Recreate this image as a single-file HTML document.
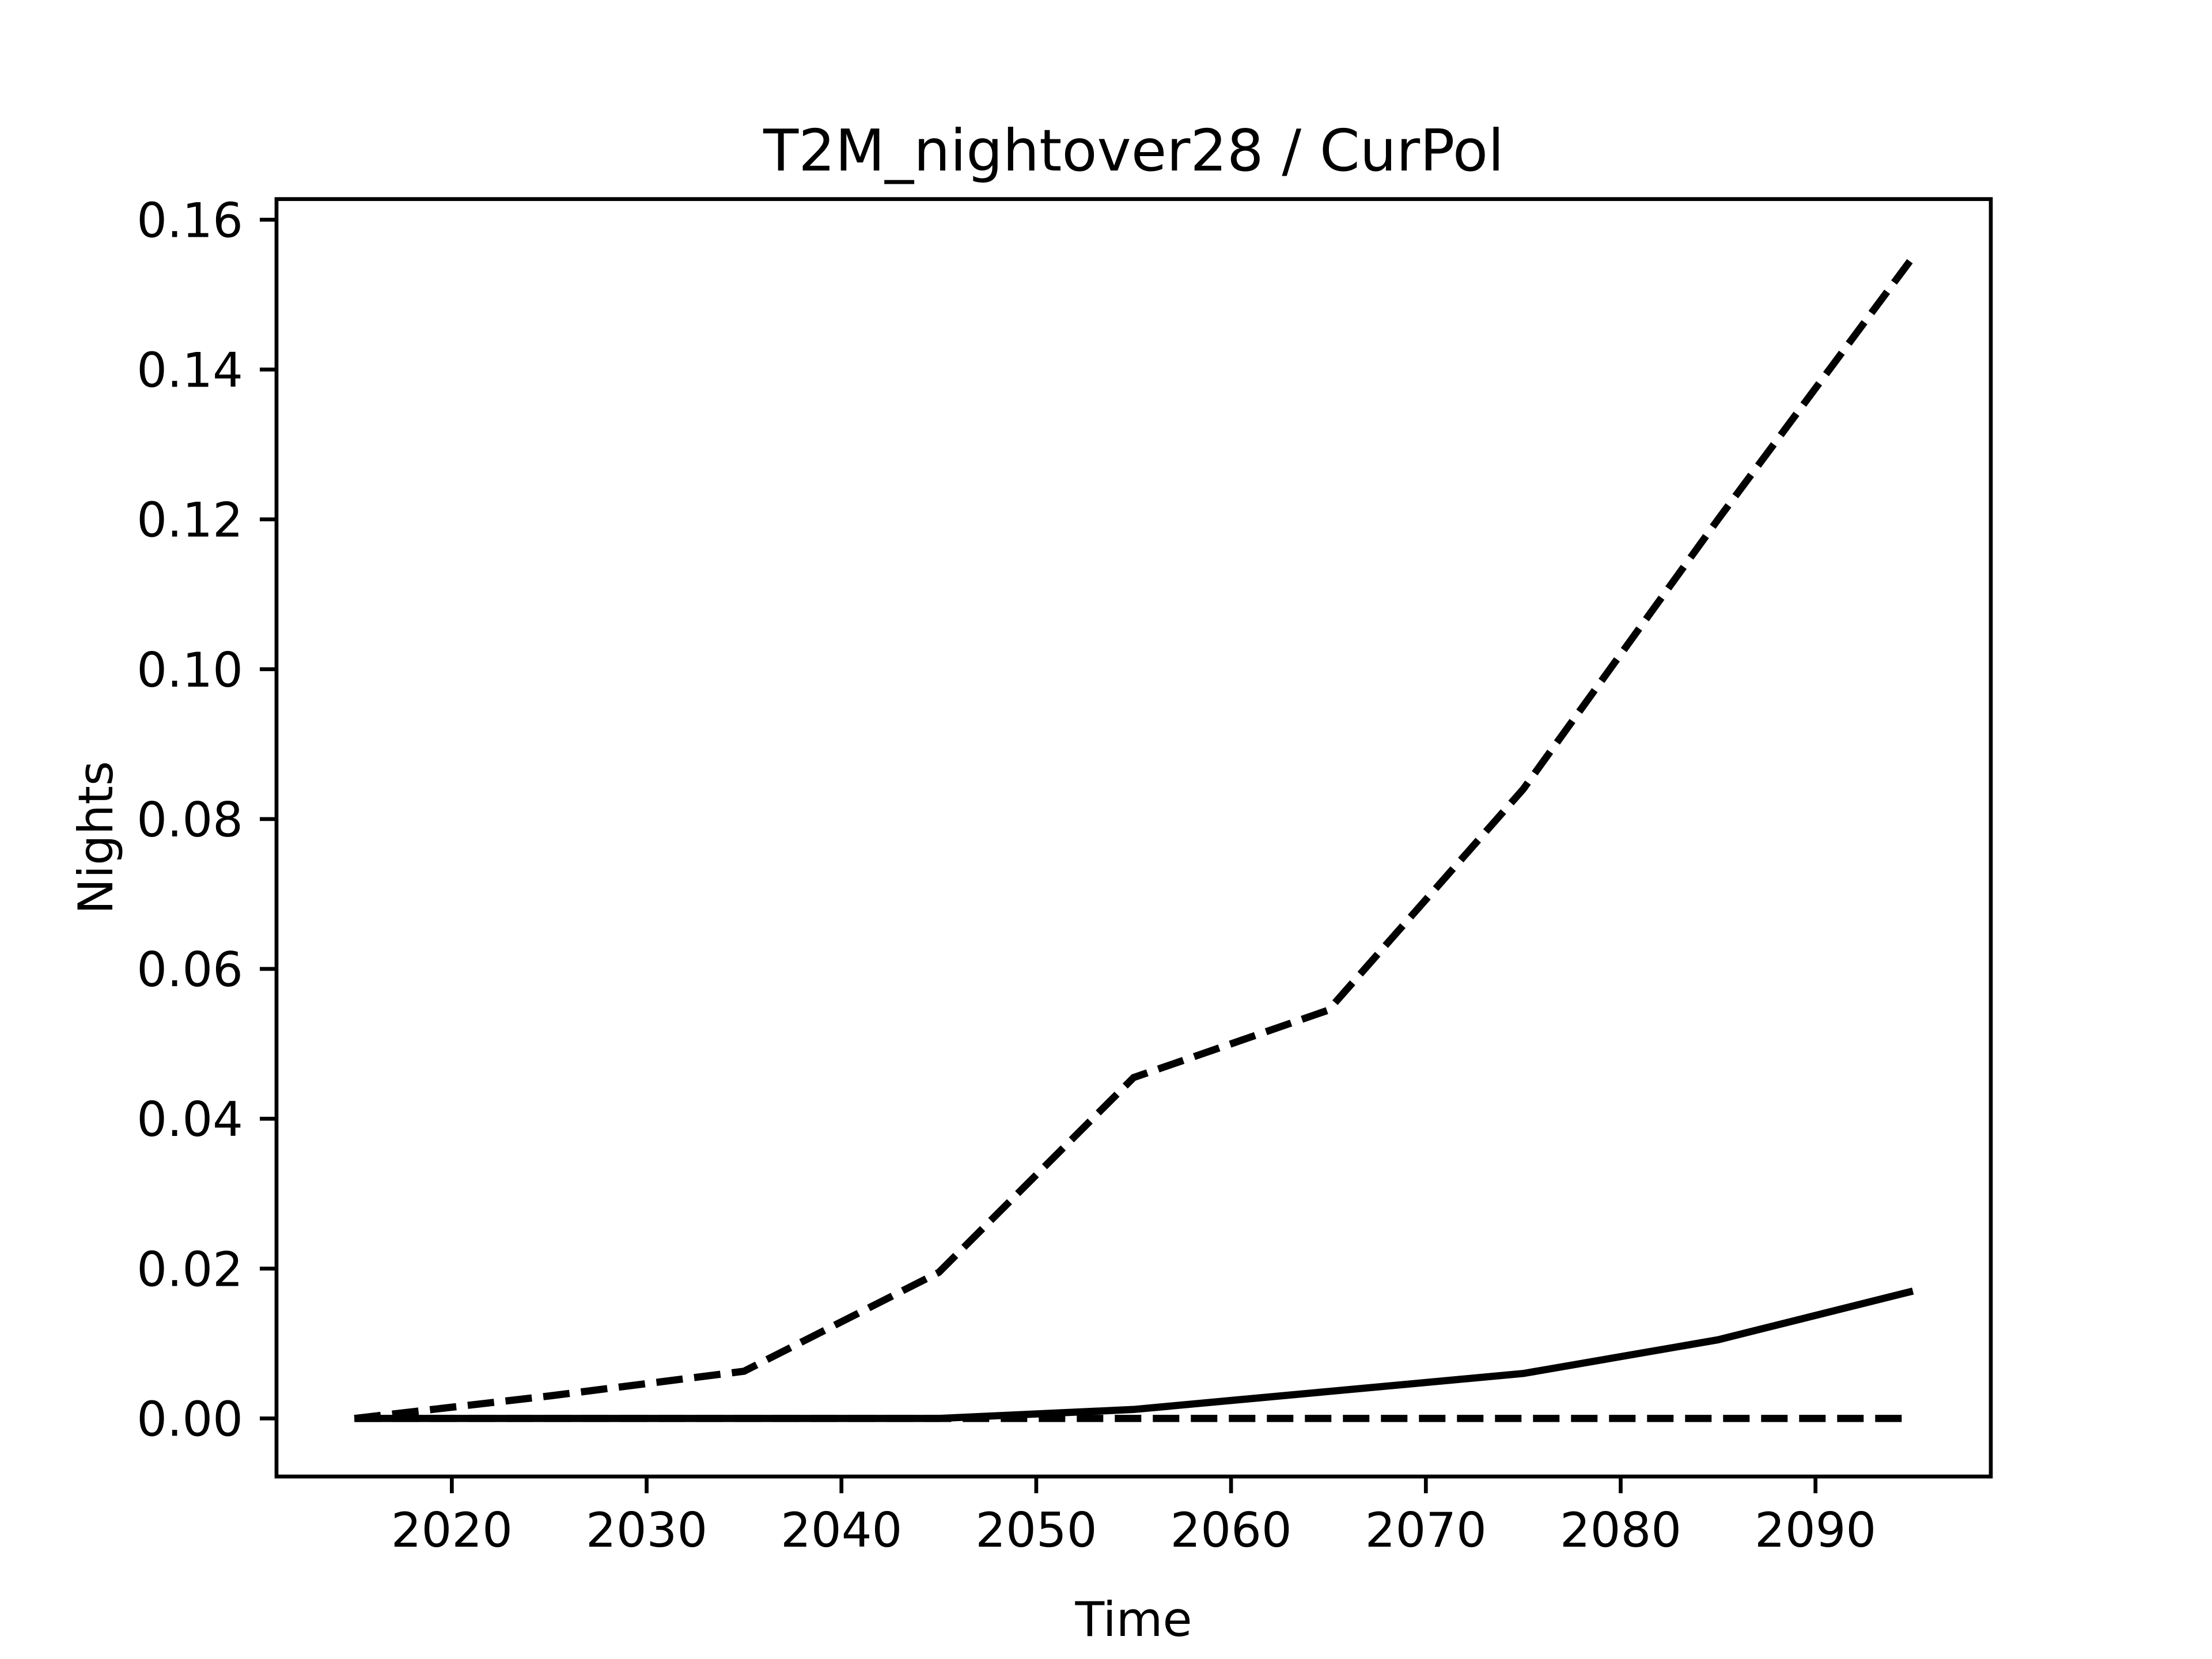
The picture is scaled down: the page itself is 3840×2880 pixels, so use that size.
<!DOCTYPE html>
<html><head><meta charset="utf-8"><style>
html,body{margin:0;padding:0;background:#fff}
svg{display:block}
text{font-family:"DejaVu Sans","Liberation Sans",sans-serif;fill:#000}
</style></head><body>
<svg id="chart" width="3840" height="2880" viewBox="0 0 3840 2880" xmlns="http://www.w3.org/2000/svg">
<rect width="3840" height="2880" fill="#fff"/>
<text x="1968" y="296" font-size="100" text-anchor="middle">T2M_nightover28 / CurPol</text>
<g id="marks"></g>
<g id="axes"></g>
<rect x="480" y="345.6" width="2976" height="2217.6" fill="none" stroke="#000" stroke-width="6.7"/>
<text x="1968" y="2840" font-size="83" text-anchor="middle">Time</text>
<text transform="translate(195,1454) rotate(-90)" font-size="83" text-anchor="middle">Nights</text>
</svg>
<script>
const years = [2015,2025,2035,2045,2055,2065,2075,2085,2095];
const upperDashed = [0,0.003,0.0063,0.0195,0.0455,0.0545,0.084,0.12,0.155];
const meanSolid = [0,0,0,0,0.0012,0.0036,0.006,0.0105,0.017];
const lowerDashed = [0,0,0,0,0,0,0,0,0];
const xTicks = [2020,2030,2040,2050,2060,2070,2080,2090];
const yTicks = [0,0.02,0.04,0.06,0.08,0.10,0.12,0.14,0.16];
const yTickLabels = ["0.00","0.02","0.04","0.06","0.08","0.10","0.12","0.14","0.16"];

const L=480,R=3456,T=345.6,B=2563.2;
const xmin=2011,xmax=2099,ymin=-0.00775,ymax=0.16275;
const sx=v=>L+(v-xmin)/(xmax-xmin)*(R-L);
const sy=v=>B-(v-ymin)/(ymax-ymin)*(B-T);
const NS="http://www.w3.org/2000/svg";
const marks=document.getElementById('marks'), axes=document.getElementById('axes');
function line(vals,name,dash){
  const p=document.createElementNS(NS,'polyline');
  
  
  p.setAttribute('points',years.map((y,i)=>sx(y)+','+sy(vals[i])).join(' '));
  p.setAttribute('fill','none');p.setAttribute('stroke','#000');
  p.setAttribute('stroke-width','12.5');
  if(dash)p.setAttribute('stroke-dasharray','46 20');
  marks.appendChild(p);
}
line(upperDashed,'upper-bound-line',true);
line(meanSolid,'mean-line',false);
line(lowerDashed,'lower-bound-line',true);
xTicks.forEach(v=>{
  const t=document.createElementNS(NS,'line');
  
  
  t.setAttribute('x1',sx(v));t.setAttribute('x2',sx(v));t.setAttribute('y1',B);t.setAttribute('y2',B+29);
  t.setAttribute('stroke','#000');t.setAttribute('stroke-width','6.7');axes.appendChild(t);
  const s=document.createElementNS(NS,'text');
  
  
  s.setAttribute('x',sx(v));s.setAttribute('y',B+29+29+64);s.setAttribute('font-size','83');s.setAttribute('text-anchor','middle');
  s.textContent=v;axes.appendChild(s);
});
yTicks.forEach((v,i)=>{
  const t=document.createElementNS(NS,'line');
  
  
  t.setAttribute('x1',L-29);t.setAttribute('x2',L);t.setAttribute('y1',sy(v));t.setAttribute('y2',sy(v));
  t.setAttribute('stroke','#000');t.setAttribute('stroke-width','6.7');axes.appendChild(t);
  const s=document.createElementNS(NS,'text');
  
  
  s.setAttribute('x',L-29-29);s.setAttribute('y',sy(v)+30);s.setAttribute('font-size','83');s.setAttribute('text-anchor','end');
  s.textContent=yTickLabels[i];axes.appendChild(s);
});
</script>
</body></html>
